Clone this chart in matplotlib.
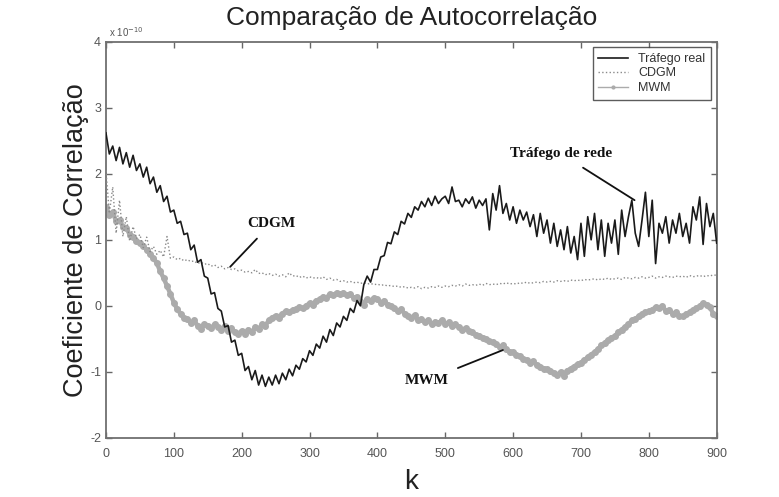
import numpy as np
import matplotlib
matplotlib.use("Agg")
import matplotlib.pyplot as plt
from matplotlib import font_manager

# ---------------- data (values in units of 1e-10) ----------------
k_step = 5
k_values = list(range(0, 901, k_step))

trafego_real = [
    2.62, 2.30, 2.42, 2.20, 2.40, 2.15, 2.32, 2.10, 2.28, 2.05,
    2.15, 1.95, 2.10, 1.85, 1.95, 1.72, 1.82, 1.58, 1.66, 1.42,
    1.45, 1.25, 1.28, 1.08, 1.10, 0.85, 0.92, 0.66, 0.70, 0.45,
    0.42, 0.18, 0.20, -0.04, -0.08, -0.32, -0.30, -0.55, -0.52, -0.75,
    -0.72, -0.98, -0.92, -1.12, -0.98, -1.20, -1.05, -1.22, -1.08, -1.20,
    -1.05, -1.18, -1.02, -1.12, -0.96, -1.06, -0.90, -0.96, -0.80, -0.85,
    -0.68, -0.75, -0.58, -0.64, -0.46, -0.55, -0.36, -0.45, -0.26, -0.32,
    -0.16, -0.22, -0.04, -0.10, 0.08, 0.00, 0.32, 0.45, 0.36, 0.55,
    0.55, 0.74, 0.76, 0.96, 0.94, 1.12, 1.08, 1.28, 1.24, 1.40,
    1.34, 1.50, 1.45, 1.58, 1.50, 1.63, 1.52, 1.66, 1.55, 1.62,
    1.66, 1.55, 1.80, 1.58, 1.60, 1.50, 1.62, 1.55, 1.65, 1.48,
    1.60, 1.52, 1.62, 1.15, 1.70, 1.45, 1.82, 1.40, 1.55, 1.30,
    1.50, 1.25, 1.45, 1.30, 1.42, 1.20, 1.38, 1.05, 1.40, 1.10,
    1.30, 0.95, 1.25, 0.90, 1.15, 0.85, 1.20, 0.80, 1.05, 0.70,
    1.25, 0.75, 1.35, 1.00, 1.40, 0.85, 1.30, 0.75, 1.25, 0.95,
    1.30, 0.78, 1.45, 1.05, 1.35, 1.60, 1.10, 0.90, 1.30, 1.72,
    1.05, 1.60, 0.64, 1.25, 1.10, 1.35, 0.95, 1.30, 1.10, 1.40,
    1.05, 1.25, 0.95, 1.50, 1.30, 1.65, 0.93, 1.55, 1.20, 1.40,
    0.95,
]

cdgm = [
    2.05, 1.40, 1.80, 1.10, 1.60, 1.05, 1.35, 0.98, 1.20, 1.02,
    1.08, 0.88, 1.04, 0.82, 0.90, 0.78, 0.84, 0.74, 1.05, 0.72,
    0.74, 0.70, 0.72, 0.68, 0.70, 0.67, 0.68, 0.64, 0.66, 0.63,
    0.64, 0.60, 0.62, 0.58, 0.60, 0.56, 0.58, 0.55, 0.56, 0.53,
    0.54, 0.51, 0.52, 0.50, 0.55, 0.49, 0.50, 0.47, 0.49, 0.46,
    0.48, 0.45, 0.47, 0.44, 0.50, 0.45, 0.46, 0.43, 0.45, 0.42,
    0.44, 0.42, 0.43, 0.41, 0.44, 0.40, 0.42, 0.39, 0.40, 0.37,
    0.38, 0.36, 0.37, 0.35, 0.36, 0.34, 0.35, 0.33, 0.34, 0.32,
    0.33, 0.31, 0.32, 0.30, 0.31, 0.29, 0.30, 0.28, 0.29, 0.27,
    0.28, 0.27, 0.29, 0.26, 0.28, 0.27, 0.29, 0.28, 0.30, 0.28,
    0.30, 0.29, 0.31, 0.30, 0.32, 0.30, 0.33, 0.31, 0.32, 0.31,
    0.33, 0.31, 0.34, 0.32, 0.33, 0.32, 0.34, 0.33, 0.35, 0.33,
    0.34, 0.33, 0.35, 0.34, 0.36, 0.34, 0.35, 0.36, 0.35, 0.37,
    0.36, 0.37, 0.36, 0.38, 0.37, 0.38, 0.37, 0.39, 0.38, 0.39,
    0.38, 0.40, 0.39, 0.40, 0.41, 0.39, 0.41, 0.40, 0.42, 0.40,
    0.41, 0.42, 0.40, 0.43, 0.42, 0.41, 0.43, 0.42, 0.44, 0.42,
    0.43, 0.45, 0.42, 0.44, 0.43, 0.45, 0.44, 0.43, 0.45, 0.44,
    0.45, 0.43, 0.46, 0.44, 0.45, 0.46, 0.44, 0.46, 0.45, 0.47,
    0.46,
]

mwm = [
    1.50, 1.38, 1.42, 1.28, 1.30, 1.20, 1.18, 1.08, 1.05, 0.98,
    0.95, 0.90, 0.85, 0.78, 0.72, 0.65, 0.52, 0.42, 0.30, 0.18,
    0.05, -0.05, -0.12, -0.18, -0.20, -0.26, -0.22, -0.30, -0.35, -0.28,
    -0.30, -0.34, -0.28, -0.32, -0.36, -0.30, -0.38, -0.34, -0.40, -0.42,
    -0.38, -0.42, -0.36, -0.40, -0.32, -0.35, -0.28, -0.30, -0.22, -0.18,
    -0.15, -0.18, -0.12, -0.08, -0.10, -0.06, -0.05, -0.02, -0.04, 0.00,
    0.04, 0.02, 0.08, 0.10, 0.14, 0.12, 0.18, 0.16, 0.20, 0.18,
    0.20, 0.16, 0.18, 0.12, 0.14, 0.08, 0.02, 0.10, 0.08, 0.12,
    0.10, 0.05, 0.08, 0.02, 0.00, -0.04, -0.08, -0.05, -0.12, -0.15,
    -0.18, -0.14, -0.22, -0.20, -0.25, -0.22, -0.28, -0.24, -0.26, -0.22,
    -0.28, -0.25, -0.30, -0.28, -0.32, -0.36, -0.34, -0.38, -0.40, -0.44,
    -0.45, -0.48, -0.50, -0.54, -0.55, -0.58, -0.62, -0.60, -0.66, -0.70,
    -0.70, -0.74, -0.76, -0.80, -0.82, -0.86, -0.84, -0.90, -0.92, -0.95,
    -0.96, -0.98, -1.02, -1.05, -1.00, -1.06, -0.98, -0.95, -0.92, -0.88,
    -0.86, -0.82, -0.78, -0.74, -0.70, -0.66, -0.60, -0.56, -0.52, -0.48,
    -0.46, -0.40, -0.36, -0.32, -0.28, -0.22, -0.20, -0.16, -0.12, -0.10,
    -0.08, -0.06, -0.02, -0.04, 0.00, -0.08, -0.06, -0.12, -0.10, -0.15,
    -0.16, -0.12, -0.10, -0.06, -0.04, 0.00, 0.04, 0.02, -0.02, -0.12,
    -0.15,
]

series_labels = ["Tráfego real", "CDGM", "MWM"]
x_ticks = [0, 100, 200, 300, 400, 500, 600, 700, 800, 900]
y_ticks = [-2, -1, 0, 1, 2, 3, 4]

# annotations: (text, text position, arrow end)
annotations = [
    ("Tráfego de rede", (671, 2.30), (779, 1.60)),
    ("CDGM", (244, 1.25), (183, 0.59)),
    ("MWM", (473, -1.13), (585, -0.67)),
]

# ---------------- figure ----------------
plt.rcParams['font.family'] = ['Liberation Sans', 'DejaVu Sans']
plt.rcParams['axes.unicode_minus'] = False

installed = {f.name for f in font_manager.fontManager.ttflist}
tick_family = 'Liberation Sans Narrow' if 'Liberation Sans Narrow' in installed else 'Liberation Sans'

fig = plt.figure(figsize=(7.79, 4.97), dpi=100)
ax = fig.add_axes([0.136, 0.119, 0.784, 0.797])

k = np.array(k_values)
ax.plot(k, mwm, color='#ababab', lw=3.2, marker='.', ms=8, mec='#ababab',
        mfc='#ababab', label=series_labels[2], zorder=2)
ax.plot(k, cdgm, color='#8a8a8a', lw=1.0, ls=':', label=series_labels[1], zorder=3)
ax.plot(k, trafego_real, color='#1a1a1a', lw=1.2, label=series_labels[0], zorder=4)

ax.set_xlim(0, 900)
ax.set_ylim(-2, 4)
ax.set_xticks(x_ticks)
ax.set_yticks(y_ticks)
ax.tick_params(direction='in', top=True, right=True, length=4, width=1,
               color='#666666', labelcolor='#555555', labelsize=9)
ax.tick_params(axis='x', pad=7)
for lab in ax.get_xticklabels() + ax.get_yticklabels():
    lab.set_family(tick_family)
for sp in ax.spines.values():
    sp.set_color('#707070')
    sp.set_linewidth(1.3)

ax.text(0.005, 1.008, 'x 10$^{-10}$', transform=ax.transAxes, fontsize=7,
        color='#555555', ha='left', va='bottom')

ax.set_title('Comparação de Autocorrelação', fontsize=19, color='#222222', pad=12)
ax.set_ylabel('Coeficiente de Correlação', fontsize=19.5, color='#222222', labelpad=1)
ax.set_xlabel('k', fontsize=20, color='#222222', labelpad=7)

handles, labels = ax.get_legend_handles_labels()
order = [2, 1, 0]
leg = ax.legend([handles[i] for i in order], [labels[i] for i in order],
                loc='upper right', fontsize=9, frameon=True, fancybox=False,
                edgecolor='#333333', borderaxespad=0.45, handlelength=2.4,
                labelspacing=0.2, borderpad=0.45, markerscale=0.5)
leg.get_frame().set_linewidth(1.0)
for t in leg.get_texts():
    t.set_color('#333333')
for h in leg.legend_handles:
    if h.get_label() == 'MWM':
        h.set_linewidth(1.0)

for text, xytext, xy in annotations:
    ax.annotate(text, xy=xy, xytext=xytext, fontsize=11, fontweight='bold',
                family=['Liberation Serif', 'DejaVu Serif'], color='#111111',
                ha='center', va='center',
                arrowprops=dict(arrowstyle='-', color='#111111', lw=1.3,
                                shrinkA=6, shrinkB=0))

fig.savefig('out.png', dpi=100)
